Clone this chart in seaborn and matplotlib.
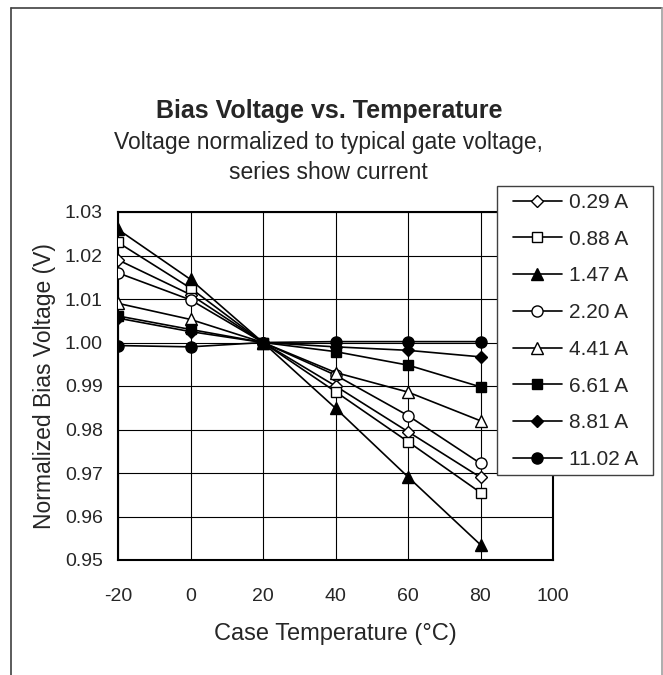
import numpy as np
import pandas as pd
import seaborn as sns
import matplotlib.pyplot as plt
from matplotlib.lines import Line2D
from matplotlib.patches import Rectangle

# case temperature points (°C)
temps = [-20, 0, 20, 40, 60, 80]

# series labels (gate current)
currents = ["0.29 A", "0.88 A", "1.47 A", "2.20 A", "4.41 A", "6.61 A", "8.81 A", "11.02 A"]

# normalized bias voltage, one list per current
v_029 = [1.019, 1.011, 1.000, 0.990, 0.9795, 0.9690]
v_088 = [1.023, 1.0125, 1.000, 0.9887, 0.9772, 0.9655]
v_147 = [1.026, 1.0145, 1.000, 0.9849, 0.9691, 0.9535]
v_220 = [1.016, 1.0098, 1.000, 0.9925, 0.9832, 0.9722]
v_441 = [1.009, 1.0053, 1.000, 0.9931, 0.9886, 0.9820]
v_661 = [1.0061, 1.0030, 1.000, 0.9979, 0.9948, 0.9898]
v_881 = [1.0056, 1.0025, 1.000, 0.9990, 0.9982, 0.9967]
v_1102 = [0.9993, 0.9990, 1.000, 1.0002, 1.0002, 1.0002]

series = [v_029, v_088, v_147, v_220, v_441, v_661, v_881, v_1102]

# marker shape / fill per series (Excel style)
markers = ["D", "s", "^", "o", "^", "s", "D", "o"]
filled = [False, False, True, False, False, True, True, True]
msizes = [6.5, 7.5, 8, 8, 8, 7.5, 6.5, 8]

df = pd.DataFrame({
    "temp": temps * len(currents),
    "volt": sum(series, []),
    "current": np.repeat(currents, len(temps)),
})

sns.set_style("white")
plt.rcParams["font.family"] = ["Liberation Sans", "DejaVu Sans"]
plt.rcParams["axes.unicode_minus"] = False

fig = plt.figure(figsize=(6.63, 6.75), dpi=100)
ax = fig.add_axes([118 / 663, 1 - 560 / 675, 435 / 663, 348 / 675])

for i, cur in enumerate(currents):
    sub = df[df["current"] == cur]
    sns.lineplot(data=sub, x="temp", y="volt", ax=ax, color="black", lw=1.2,
                 marker=markers[i], markersize=msizes[i],
                 markerfacecolor="black" if filled[i] else "white",
                 markeredgecolor="black", markeredgewidth=1.0,
                 label=cur, zorder=3)

handles, labels = ax.get_legend_handles_labels()
if ax.get_legend() is not None:
    ax.get_legend().remove()

ax.set_xlim(-20, 100)
ax.set_ylim(0.95, 1.03)
ax.set_xticks(range(-20, 101, 20))
yt = np.arange(0.95, 1.0301, 0.01)
ax.set_yticks(yt)
ax.set_yticklabels([f"{t:.2f}" for t in yt])
ax.grid(True, color="black", lw=0.8)
ax.tick_params(length=0, labelsize=14)
ax.tick_params(axis="x", pad=20)
ax.tick_params(axis="y", pad=11)
for s in ax.spines.values():
    s.set_color("black")
    s.set_linewidth(1.5)

ax.set_xlabel("Case Temperature (°C)", fontsize=17, labelpad=13)
ax.set_ylabel("Normalized Bias Voltage (V)", fontsize=16.5, labelpad=6)

fig.text(0.497, 1 - 111 / 675, "Bias Voltage vs. Temperature",
         ha="center", va="center", fontsize=18, fontweight="bold")
fig.text(0.496, 1 - 142 / 675, "Voltage normalized to typical gate voltage,",
         ha="center", va="center", fontsize=16.5)
fig.text(0.496, 1 - 173 / 675, "series show current",
         ha="center", va="center", fontsize=16.5)

# legend box drawn separately so padding matches the original
fig.add_artist(Rectangle((497 / 663, 1 - 475 / 675), 156 / 663, 289 / 675,
                         transform=fig.transFigure, facecolor="white",
                         edgecolor="#404040", lw=1.0, zorder=4))
fig.legend(handles, labels, loc="upper left",
           bbox_to_anchor=(512.7 / 663, 1 - 193 / 675),
           fontsize=15, frameon=False, handlelength=2.35, labelspacing=0.85,
           borderpad=0, handletextpad=0.34, borderaxespad=0).set_zorder(5)

# outer chart frame
fig.add_artist(Line2D([11 / 663, 11 / 663], [0, 1 - 8 / 675], color="#404040", lw=1.2))
fig.add_artist(Line2D([11 / 663, 662 / 663], [1 - 8 / 675, 1 - 8 / 675], color="#404040", lw=1.2))
fig.add_artist(Line2D([662 / 663, 662 / 663], [0, 1 - 8 / 675], color="#a0a0a0", lw=1.2))

fig.savefig("out.png", dpi=100)
